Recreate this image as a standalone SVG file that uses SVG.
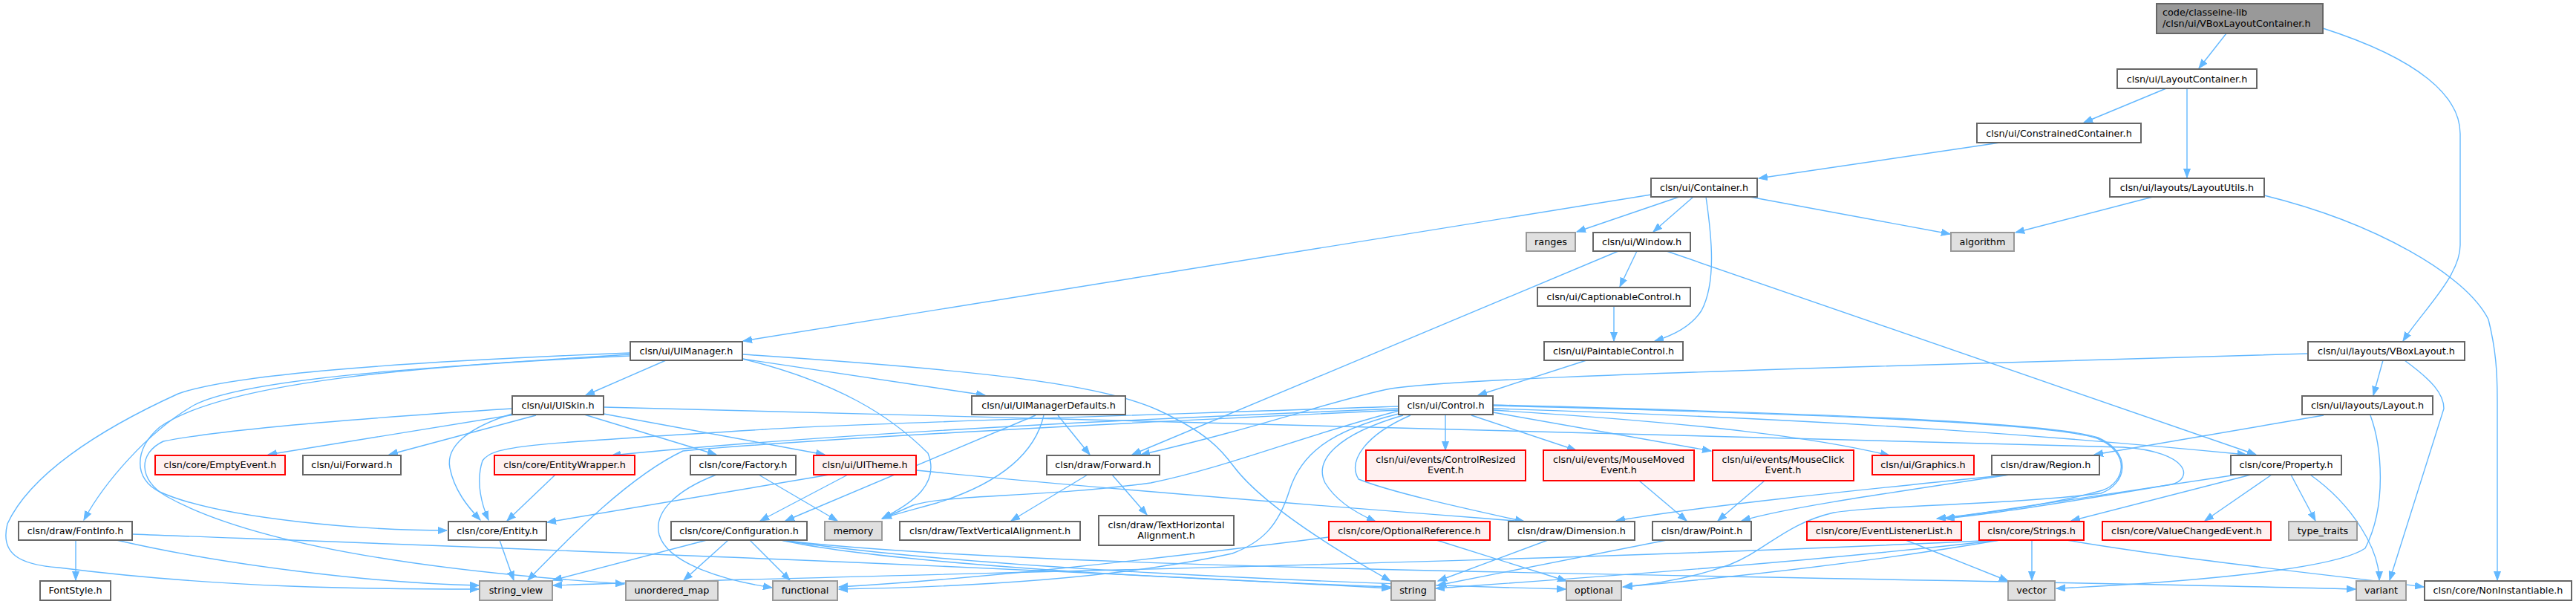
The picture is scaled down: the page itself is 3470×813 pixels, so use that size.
<svg xmlns="http://www.w3.org/2000/svg" width="3470" height="813" viewBox="0 0 3470 813">
<style>
.n rect{fill:#ffffff;stroke:#666666;stroke-width:2}
.r rect{fill:#fff0f0;stroke:#ff0000;stroke-width:2}
.g rect{fill:#e0e0e0;stroke:#999999;stroke-width:2}
.t rect{fill:#999999;stroke:#666666;stroke-width:2}
text{font-family:"DejaVu Sans","Liberation Sans",sans-serif;font-size:12.8px;fill:#000000;text-anchor:middle}
.t text{text-anchor:start}
#edges path{fill:none;stroke:#63b8ff;stroke-width:1.4;marker-end:url(#ah)}
</style>
<defs>
<marker id="ah" markerWidth="13" markerHeight="10" refX="12" refY="5" orient="auto" markerUnits="userSpaceOnUse">
<path d="M0,0.5 L12,5 L0,9.5 z" fill="#63b8ff" stroke="#63b8ff" stroke-width="1"/>
</marker>
</defs>
<rect width="3470" height="813" fill="#ffffff"/>
<g id="edges">
<path d="M2999,45 L2962,92"/>
<path d="M3129,38 C3260,80 3314,130 3314,180 L3314,330 C3314,372 3262,420 3237,459"/>
<path d="M2918,119 L2807,165"/>
<path d="M2946,119 L2946,239"/>
<path d="M3050,263 C3200,300 3322,370 3352,430 C3362,470 3364,500 3364,540 L3364,781"/>
<path d="M2694,192 L2369,240"/>
<path d="M2900,265 L2715,313"/>
<path d="M2262,265 L2124,312"/>
<path d="M2281,265 L2227,312"/>
<path d="M2357,265 L2627,315"/>
<path d="M2224,262 L1001,459"/>
<path d="M2298,265 C2306,320 2312,380 2292,418 C2278,440 2252,452 2229,459"/>
<path d="M2205,338 L2182,386"/>
<path d="M2180,338 L1525,612"/>
<path d="M2245,338 L3039,612"/>
<path d="M2174,412 L2174,459"/>
<path d="M2137,485 L1991,532"/>
<path d="M3210,485 L3197,532"/>
<path d="M3239,485 C3276,512 3292,530 3292,550 L3219,781"/>
<path d="M3109,476 L2530,493 C2200,503 1950,512 1874,523 C1800,537 1700,575 1537,612"/>
<path d="M3130,559 L2821,612"/>
<path d="M3193,559 C3208,600 3216,680 3186,738 C3140,770 2900,786 2770,792"/>
<path d="M897,485 L789,532"/>
<path d="M1000,483 L1327,532"/>
<path d="M849,477 C560,495 330,510 262,545 C200,580 140,650 113,700"/>
<path d="M849,475 C520,488 310,505 240,530 C130,580 40,640 10,705 C0,745 25,760 79,764 C300,792 500,793 645,793"/>
<path d="M849,479 C560,492 300,515 215,575 C180,605 180,645 215,662 C300,700 500,714 602,714"/>
<path d="M690,550 C500,562 300,578 220,594 C186,610 186,646 224,668 C350,738 600,770 841,786"/>
<path d="M1000,483 C1130,515 1200,560 1250,610 C1266,650 1232,676 1188,698"/>
<path d="M1000,477 C1300,497 1480,515 1560,552 C1625,582 1645,605 1662,628 C1705,685 1820,752 1873,782"/>
<path d="M712,555 L361,612"/>
<path d="M722,559 L524,612"/>
<path d="M690,557 C632,575 600,600 606,630 C612,660 630,682 647,700"/>
<path d="M787,558 L965,612"/>
<path d="M813,557 L1111,612"/>
<path d="M813,548 C1500,565 2300,588 2860,602 C2950,608 2955,645 2925,652 C2820,670 2700,690 2621,698"/>
<path d="M1884,547 C1500,560 1100,572 1030,578 C700,598 665,600 650,620 C640,650 650,682 658,700"/>
<path d="M1884,550 C1500,565 1100,585 824,613"/>
<path d="M1884,552 C1500,570 1100,590 920,607 C850,640 770,720 711,781"/>
<path d="M1884,553 C1760,585 1650,630 1550,650 C1400,670 1280,665 1230,680 C1212,688 1198,694 1189,698"/>
<path d="M1884,557 C1790,580 1752,612 1737,660 C1722,708 1700,730 1660,745 C1500,780 1300,790 1130,793"/>
<path d="M1890,559 C1800,585 1770,620 1785,650 C1800,675 1830,692 1853,702"/>
<path d="M1900,559 C1840,585 1815,620 1830,645 C1880,665 2000,690 2053,702"/>
<path d="M1947,559 L1947,606"/>
<path d="M1982,559 L2123,606"/>
<path d="M2011,555 L2305,607"/>
<path d="M2011,552 C2300,570 2450,590 2545,613"/>
<path d="M2011,550 C2500,565 2800,590 3026,612"/>
<path d="M2011,546 C2400,556 2760,568 2825,590 C2872,610 2862,650 2832,660 C2760,680 2680,690 2609,698"/>
<path d="M2011,545 C2400,555 2760,567 2826,589 C2874,610 2864,652 2830,664 C2700,680 2530,680 2470,690 C2405,705 2380,740 2330,760 C2280,778 2230,786 2187,790"/>
<path d="M1395,559 L1058,701"/>
<path d="M1406,559 C1392,620 1332,655 1262,677 C1230,686 1202,693 1189,698"/>
<path d="M1425,559 L1468,612"/>
<path d="M1022,639 L1128,701"/>
<path d="M965,639 C910,660 880,690 888,720 C900,760 980,782 1040,791"/>
<path d="M1142,639 L1024,701"/>
<path d="M1117,639 L737,703"/>
<path d="M1234,633 C1500,660 1900,690 2054,702"/>
<path d="M1465,639 L1362,701"/>
<path d="M1498,639 L1545,693"/>
<path d="M102,727 L102,781"/>
<path d="M157,727 C300,760 500,785 645,788"/>
<path d="M178,719 C600,735 1300,760 1873,792"/>
<path d="M673,727 L692,781"/>
<path d="M748,639 L683,701"/>
<path d="M952,727 L745,781"/>
<path d="M981,727 L921,781"/>
<path d="M1010,727 L1064,781"/>
<path d="M1052,727 C1200,760 1600,780 1873,790"/>
<path d="M1052,727 C1300,765 1800,785 2109,793"/>
<path d="M1052,727 C1400,770 2500,775 3173,793"/>
<path d="M1790,723 C1500,760 1300,780 1130,790"/>
<path d="M1935,727 L2110,782"/>
<path d="M2085,727 L1937,782"/>
<path d="M2245,727 L1936,788"/>
<path d="M2208,647 L2272,701"/>
<path d="M2377,647 L2314,701"/>
<path d="M2707,639 C2500,660 2300,680 2177,701"/>
<path d="M2707,639 C2500,670 2400,685 2346,701"/>
<path d="M3013,639 L2620,698"/>
<path d="M3032,639 L2790,701"/>
<path d="M3060,639 L2970,701"/>
<path d="M3086,639 L3119,701"/>
<path d="M3112,639 C3170,680 3205,740 3205,781"/>
<path d="M2567,727 L2705,782"/>
<path d="M2737,727 L2737,781"/>
<path d="M2694,727 C2400,760 2100,780 1934,792"/>
<path d="M2694,727 C2500,760 2300,780 2186,790"/>
<path d="M2784,727 C2950,755 3150,775 3265,790"/>
<path d="M2690,727 C2000,760 1200,772 745,788"/>
</g>
<g id="n_top" class="t"><rect x="2905" y="5" width="224" height="40"/><text x="2913" y="21">code/classeine-lib</text><text x="2913" y="36">/clsn/ui/VBoxLayoutContainer.h</text></g>
<g id="n_layoutcontainer" class="n"><rect x="2852" y="93" width="188" height="26"/><text x="2946" y="111">clsn/ui/LayoutContainer.h</text></g>
<g id="n_constrained" class="n"><rect x="2663" y="166" width="221" height="26"/><text x="2773.5" y="184">clsn/ui/ConstrainedContainer.h</text></g>
<g id="n_layoututils" class="n"><rect x="2842" y="240" width="208" height="25"/><text x="2946" y="257">clsn/ui/layouts/LayoutUtils.h</text></g>
<g id="n_container" class="n"><rect x="2224" y="240" width="143" height="25"/><text x="2295.5" y="257">clsn/ui/Container.h</text></g>
<g id="n_ranges" class="g"><rect x="2056" y="313" width="66" height="25"/><text x="2089" y="330">ranges</text></g>
<g id="n_window" class="n"><rect x="2146" y="313" width="131" height="25"/><text x="2211.5" y="330">clsn/ui/Window.h</text></g>
<g id="n_algorithm" class="g"><rect x="2628" y="313" width="85" height="25"/><text x="2670.5" y="330">algorithm</text></g>
<g id="n_captionable" class="n"><rect x="2071" y="387" width="206" height="25"/><text x="2174" y="404">clsn/ui/CaptionableControl.h</text></g>
<g id="n_paintable" class="n"><rect x="2080" y="460" width="187" height="25"/><text x="2173.5" y="477">clsn/ui/PaintableControl.h</text></g>
<g id="n_uimanager" class="n"><rect x="849" y="460" width="151" height="25"/><text x="924.5" y="477">clsn/ui/UIManager.h</text></g>
<g id="n_vboxlayout" class="n"><rect x="3109" y="460" width="211" height="25"/><text x="3214.5" y="477">clsn/ui/layouts/VBoxLayout.h</text></g>
<g id="n_uiskin" class="n"><rect x="690" y="533" width="123" height="25"/><text x="751.5" y="550">clsn/ui/UISkin.h</text></g>
<g id="n_uimdefaults" class="n"><rect x="1309" y="533" width="207" height="25"/><text x="1412.5" y="550">clsn/ui/UIManagerDefaults.h</text></g>
<g id="n_control" class="n"><rect x="1884" y="533" width="127" height="25"/><text x="1947.5" y="550">clsn/ui/Control.h</text></g>
<g id="n_layout" class="n"><rect x="3101" y="533" width="176" height="25"/><text x="3189" y="550">clsn/ui/layouts/Layout.h</text></g>
<g id="n_emptyevent" class="r"><rect x="209" y="613" width="175" height="26"/><text x="296.5" y="630">clsn/core/EmptyEvent.h</text></g>
<g id="n_uiforward" class="n"><rect x="408" y="613" width="132" height="26"/><text x="474" y="630">clsn/ui/Forward.h</text></g>
<g id="n_entitywrapper" class="r"><rect x="666" y="613" width="189" height="26"/><text x="760.5" y="630">clsn/core/EntityWrapper.h</text></g>
<g id="n_factory" class="n"><rect x="930" y="613" width="142" height="26"/><text x="1001" y="630">clsn/core/Factory.h</text></g>
<g id="n_uitheme" class="r"><rect x="1096" y="613" width="138" height="26"/><text x="1165" y="630">clsn/ui/UITheme.h</text></g>
<g id="n_drawforward" class="n"><rect x="1410" y="613" width="152" height="26"/><text x="1486" y="630">clsn/draw/Forward.h</text></g>
<g id="n_controlresized" class="r"><rect x="1840" y="606" width="215" height="41"/><text x="1947.5" y="623">clsn/ui/events/ControlResized</text><text x="1947.5" y="637">Event.h</text></g>
<g id="n_mousemoved" class="r"><rect x="2079" y="606" width="203" height="41"/><text x="2180.5" y="623">clsn/ui/events/MouseMoved</text><text x="2180.5" y="637">Event.h</text></g>
<g id="n_mouseclick" class="r"><rect x="2307" y="606" width="190" height="41"/><text x="2402" y="623">clsn/ui/events/MouseClick</text><text x="2402" y="637">Event.h</text></g>
<g id="n_graphics" class="r"><rect x="2522" y="613" width="137" height="26"/><text x="2590.5" y="630">clsn/ui/Graphics.h</text></g>
<g id="n_region" class="n"><rect x="2683" y="613" width="145" height="26"/><text x="2755.5" y="630">clsn/draw/Region.h</text></g>
<g id="n_property" class="n"><rect x="3005" y="613" width="149" height="26"/><text x="3079.5" y="630">clsn/core/Property.h</text></g>
<g id="n_fontinfo" class="n"><rect x="25" y="702" width="153" height="25"/><text x="101.5" y="719">clsn/draw/FontInfo.h</text></g>
<g id="n_entity" class="n"><rect x="604" y="702" width="132" height="25"/><text x="670" y="719">clsn/core/Entity.h</text></g>
<g id="n_configuration" class="n"><rect x="904" y="702" width="183" height="25"/><text x="995.5" y="719">clsn/core/Configuration.h</text></g>
<g id="n_memory" class="g"><rect x="1111" y="702" width="77" height="25"/><text x="1149.5" y="719">memory</text></g>
<g id="n_tva" class="n"><rect x="1212" y="702" width="243" height="25"/><text x="1333.5" y="719">clsn/draw/TextVerticalAlignment.h</text></g>
<g id="n_tha" class="n"><rect x="1480" y="694" width="182" height="40"/><text x="1571" y="711">clsn/draw/TextHorizontal</text><text x="1571" y="725">Alignment.h</text></g>
<g id="n_optionalref" class="r"><rect x="1790" y="702" width="217" height="25"/><text x="1898.5" y="719">clsn/core/OptionalReference.h</text></g>
<g id="n_dimension" class="n"><rect x="2032" y="702" width="170" height="25"/><text x="2117" y="719">clsn/draw/Dimension.h</text></g>
<g id="n_point" class="n"><rect x="2226" y="702" width="133" height="25"/><text x="2292.5" y="719">clsn/draw/Point.h</text></g>
<g id="n_eventlistenerlist" class="r"><rect x="2434" y="702" width="208" height="25"/><text x="2538" y="719">clsn/core/EventListenerList.h</text></g>
<g id="n_strings" class="r"><rect x="2666" y="702" width="141" height="25"/><text x="2736.5" y="719">clsn/core/Strings.h</text></g>
<g id="n_valuechanged" class="r"><rect x="2832" y="702" width="227" height="25"/><text x="2945.5" y="719">clsn/core/ValueChangedEvent.h</text></g>
<g id="n_typetraits" class="g"><rect x="3083" y="702" width="92" height="25"/><text x="3129" y="719">type_traits</text></g>
<g id="n_fontstyle" class="n"><rect x="54" y="782" width="95" height="26"/><text x="101.5" y="799">FontStyle.h</text></g>
<g id="n_string_view" class="g"><rect x="646" y="782" width="98" height="26"/><text x="695" y="799">string_view</text></g>
<g id="n_unordered_map" class="g"><rect x="843" y="782" width="124" height="26"/><text x="905" y="799">unordered_map</text></g>
<g id="n_functional" class="g"><rect x="1041" y="782" width="87" height="26"/><text x="1084.5" y="799">functional</text></g>
<g id="n_string" class="g"><rect x="1874" y="782" width="59" height="26"/><text x="1903.5" y="799">string</text></g>
<g id="n_optional" class="g"><rect x="2110" y="782" width="74" height="26"/><text x="2147" y="799">optional</text></g>
<g id="n_vector" class="g"><rect x="2705" y="782" width="63" height="26"/><text x="2736.5" y="799">vector</text></g>
<g id="n_variant" class="g"><rect x="3174" y="782" width="67" height="26"/><text x="3207.5" y="799">variant</text></g>
<g id="n_noninstantiable" class="n"><rect x="3266" y="782" width="198" height="26"/><text x="3365" y="799">clsn/core/NonInstantiable.h</text></g>
</svg>
